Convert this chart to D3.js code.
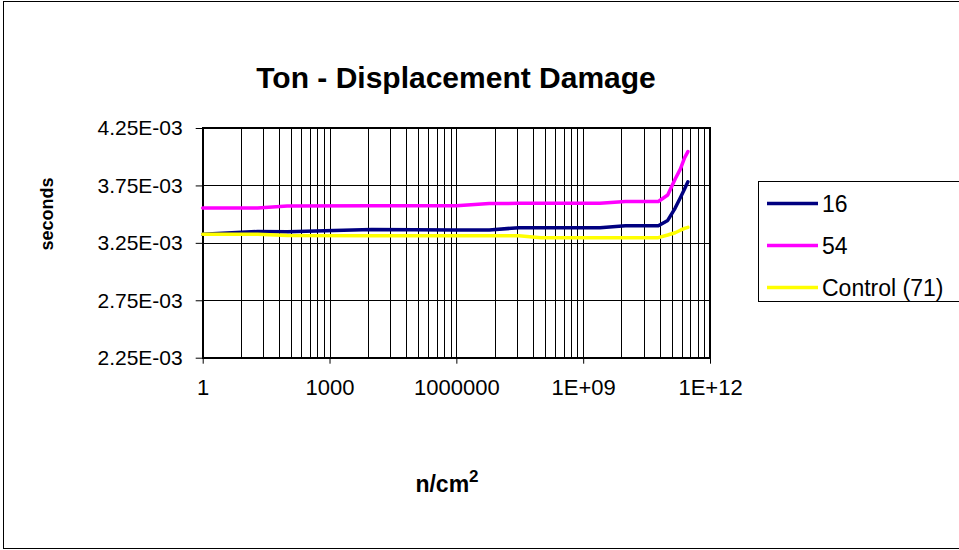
<!DOCTYPE html>
<html>
<head>
<meta charset="utf-8">
<script src="https://cdn.jsdelivr.net/npm/d3@7"></script>
<style>
    body { margin: 0; background: #fff; }
    text { font-family: "Liberation Sans", Arial, sans-serif; fill: #000; }
    .gridLines { stroke: #000; stroke-width: 1; shape-rendering: crispEdges; }
    .frame { fill: none; stroke: #000; stroke-width: 2; shape-rendering: crispEdges; }
    .series { fill: none; stroke-width: 3.5; stroke-linejoin: round; stroke-linecap: round; }
</style>
</head>
<body>
<script>
(function(){

    //fluence points (n/cm^2) shared by all three series
    var fluence = [1, 20, 100, 1e4, 1e6, 6e6, 3e7, 1e8, 2.5e9, 1e10, 6e10, 1e11, 1.5e11, 2e11, 2.5e11, 3e11];

    //Ton in seconds
    var part16 = [0.003324, 0.003349, 0.003347, 0.003366, 0.003362, 0.003362, 0.003382, 0.003382, 0.003382, 0.003399, 0.003399, 0.003445, 0.003553, 0.003645, 0.003719, 0.003782];
    var part54 = [0.003553, 0.003553, 0.003570, 0.003573, 0.003573, 0.003593, 0.003594, 0.003594, 0.003594, 0.003610, 0.003610, 0.003667, 0.003806, 0.003894, 0.003990, 0.004044];
    var partControl = [0.003324, 0.003324, 0.003314, 0.003312, 0.003312, 0.003312, 0.003312, 0.003295, 0.003295, 0.003295, 0.003295, 0.003318, 0.003338, 0.003360, 0.003376, 0.003385];

    var seriesNames = ["16", "54", "Control (71)"];
    var seriesColors = ["#000080", "#FF00FF", "#FFFF00"];

    //axis ticks
    var xTicks = [1, 1e3, 1e6, 1e9, 1e12];
    var xTickLabels = ["1", "1000", "1000000", "1E+09", "1E+12"];
    var yTicks = [0.00225, 0.00275, 0.00325, 0.00375, 0.00425];
    var yTickLabels = ["2.25E-03", "2.75E-03", "3.25E-03", "3.75E-03", "4.25E-03"];

    window.onload = function(){
        setChart();
    };

    function setChart(){
        var width = 959,
            height = 550;

        var plot = {left: 202.7, right: 710, top: 128, bottom: 357.7};

        var svg = d3.select("body")
            .append("svg")
            .attr("width", width)
            .attr("height", height);

        //outer chart border
        svg.append("rect")
            .attr("x", 3.5)
            .attr("y", 1.5)
            .attr("width", 960)
            .attr("height", 547)
            .attr("fill", "#fff")
            .attr("stroke", "#000")
            .attr("stroke-width", 1);

        var xScale = d3.scaleLog()
            .domain([1, 1e12])
            .range([plot.left, plot.right]);

        var yScale = d3.scaleLinear()
            .domain([0.00225, 0.00425])
            .range([plot.bottom, plot.top]);

        //vertical gridlines: each 1000x cycle is split like a decade (k^3 steps)
        var gridX = [];
        for (var n=0; n<4; n++){
            for (var k=1; k<=9; k++){
                gridX.push(Math.pow(1000, n) * k * k * k);
            }
        }
        gridX.push(1e12);

        svg.selectAll(".gridX")
            .data(gridX)
            .enter()
            .append("line")
            .attr("class", "gridLines")
            .attr("x1", function(d){ return Math.round(xScale(d)) + 0.5; })
            .attr("x2", function(d){ return Math.round(xScale(d)) + 0.5; })
            .attr("y1", plot.top)
            .attr("y2", plot.bottom);

        svg.selectAll(".gridY")
            .data(yTicks)
            .enter()
            .append("line")
            .attr("class", "gridLines")
            .attr("x1", plot.left)
            .attr("x2", plot.right)
            .attr("y1", function(d){ return Math.round(yScale(d)) + 0.5; })
            .attr("y2", function(d){ return Math.round(yScale(d)) + 0.5; });

        //plot frame
        svg.append("rect")
            .attr("class", "frame")
            .attr("x", plot.left)
            .attr("y", plot.top)
            .attr("width", plot.right - plot.left)
            .attr("height", plot.bottom - plot.top);

        //axes
        var xAxis = d3.axisBottom(xScale)
            .tickValues(xTicks)
            .tickSize(6)
            .tickPadding(16)
            .tickFormat(function(d, i){ return xTickLabels[i]; });

        svg.append("g")
            .attr("transform", "translate(0," + plot.bottom + ")")
            .call(xAxis)
            .call(styleAxis, "22px");

        var yAxis = d3.axisLeft(yScale)
            .tickValues(yTicks)
            .tickSize(7)
            .tickPadding(13)
            .tickFormat(function(d, i){ return yTickLabels[i]; });

        svg.append("g")
            .attr("transform", "translate(" + plot.left + ",0)")
            .call(yAxis)
            .call(styleAxis, "21px");

        //series lines
        var allSeries = [part16, part54, partControl];
        var line = d3.line()
            .x(function(d, i){ return xScale(fluence[i]); })
            .y(function(d){ return yScale(d); });

        svg.selectAll(".series")
            .data(allSeries)
            .enter()
            .append("path")
            .attr("class", "series")
            .attr("d", line)
            .style("stroke", function(d, i){ return seriesColors[i]; });

        //titles
        svg.append("text")
            .attr("x", 456)
            .attr("y", 88)
            .attr("text-anchor", "middle")
            .style("font-size", "30px")
            .style("font-weight", "bold")
            .text("Ton - Displacement Damage");

        svg.append("text")
            .attr("transform", "translate(53,214) rotate(-90)")
            .attr("text-anchor", "middle")
            .style("font-size", "18px")
            .style("font-weight", "bold")
            .text("seconds");

        var xTitle = svg.append("text")
            .attr("x", 447)
            .attr("y", 492)
            .attr("text-anchor", "middle")
            .style("font-size", "23px")
            .style("font-weight", "bold");
        xTitle.append("tspan").text("n/cm");
        xTitle.append("tspan")
            .attr("dy", -10)
            .style("font-size", "17px")
            .text("2");

        setLegend(svg);
    };

    function styleAxis(g, size){
        g.select(".domain").remove();
        g.selectAll(".tick line")
            .attr("stroke", "#000")
            .attr("stroke-width", 1);
        g.selectAll(".tick text")
            .style("font-size", size)
            .style("font-family", "'Liberation Sans', Arial, sans-serif");
    };

    function setLegend(svg){
        var legend = svg.append("g");

        legend.append("rect")
            .attr("x", 758.5)
            .attr("y", 181.5)
            .attr("width", 240)
            .attr("height", 120)
            .attr("fill", "#fff")
            .attr("stroke", "#000")
            .attr("stroke-width", 1);

        var items = legend.selectAll(".legendItem")
            .data(seriesNames)
            .enter()
            .append("g")
            .attr("transform", function(d, i){
                return "translate(767," + (203.5 + i * 42) + ")";
            });

        items.append("line")
            .attr("x1", 0)
            .attr("x2", 51)
            .attr("stroke-width", 3.5)
            .attr("stroke", function(d, i){ return seriesColors[i]; });

        items.append("text")
            .attr("x", 55)
            .attr("y", 8)
            .style("font-size", "23px")
            .text(function(d){ return d; });
    };

})();
</script>
</body>
</html>
